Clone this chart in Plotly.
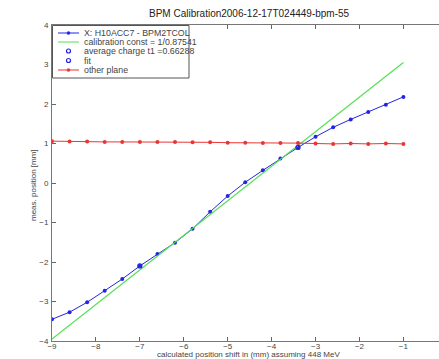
import plotly.graph_objects as go

# Scan positions (calculated shift, mm) and measured BPM readings
shift_mm = [-9.0, -8.6, -8.2, -7.8, -7.4, -7.0, -6.6, -6.2, -5.8, -5.4, -5.0,
            -4.6, -4.2, -3.8, -3.4, -3.0, -2.6, -2.2, -1.8, -1.4, -1.0]
meas_x = [-3.45, -3.27, -3.02, -2.73, -2.43, -2.10, -1.80, -1.51, -1.16, -0.73, -0.33,
          0.02, 0.32, 0.62, 0.90, 1.17, 1.41, 1.61, 1.80, 1.98, 2.18]
other_plane = [1.06, 1.05, 1.05, 1.04, 1.04, 1.04, 1.04, 1.04, 1.03, 1.03, 1.02,
               1.02, 1.01, 1.01, 1.01, 1.00, 0.99, 1.00, 0.99, 1.00, 0.99]

# Calibration line end points
calib_x = [-9.0, -1.0]
calib_y = [-3.95, 3.05]

# Marked points
avg_x = [-3.4]
avg_y = [0.90]
fit_x = [-7.0]
fit_y = [-2.10]

x_ticks = [-9, -8, -7, -6, -5, -4, -3, -2, -1]
y_ticks = [-4, -3, -2, -1, 0, 1, 2, 3, 4]

series_names = ["X: H10ACC7 - BPM2TCOL", "calibration const = 1/0.87541",
                "average charge t1 =0.66288", "fit", "other plane"]

BLUE = "#2424e6"
GREEN = "#55e055"
RED = "#ea3535"
FONT = "Liberation Sans, Arial, sans-serif"

W, H = 439, 359
L, R, T, B = 52, 0, 25, 18
PW, PH = W - L - R, H - T - B


def px(xp):
    return (xp - L) / PW


def py(yp):
    return (H - B - yp) / PH


fig = go.Figure()
fig.add_trace(go.Scatter(x=shift_mm, y=meas_x, mode="lines+markers", name=series_names[0],
                         line=dict(color=BLUE, width=1),
                         marker=dict(color=BLUE, size=4)))
fig.add_trace(go.Scatter(x=calib_x, y=calib_y, mode="lines", name=series_names[1],
                         line=dict(color=GREEN, width=1.2)))
fig.add_trace(go.Scatter(x=avg_x, y=avg_y, mode="markers", name=series_names[2],
                         marker=dict(color=BLUE, size=4, symbol="circle-open",
                                     line=dict(width=1.3, color=BLUE))))
fig.add_trace(go.Scatter(x=fit_x, y=fit_y, mode="markers", name=series_names[3],
                         marker=dict(color=BLUE, size=4, symbol="circle-open",
                                     line=dict(width=1.3, color=BLUE))))
fig.add_trace(go.Scatter(x=shift_mm, y=other_plane, mode="lines+markers", name=series_names[4],
                         line=dict(color=RED, width=1),
                         marker=dict(color=RED, size=4)))

# Compact boxed legend (line sample, marker, label) in the upper-left corner
legend_style = [(BLUE, True, "dot"), (GREEN, True, None), (BLUE, False, "ring"),
                (BLUE, False, "ring"), (RED, True, "dot")]
shapes = [dict(type="rect", xref="paper", yref="paper", x0=px(52.5), x1=px(189),
               y0=py(25.5), y1=py(78), line=dict(color="#555", width=1),
               fillcolor="white", layer="above")]
annotations = []
row_y = [33, 42, 51, 60.5, 70]
for (color, has_line, mk), name, yp in zip(legend_style, series_names, row_y):
    if has_line:
        shapes.append(dict(type="line", xref="paper", yref="paper", x0=px(58), x1=px(79),
                           y0=py(yp), y1=py(yp), line=dict(color=color, width=1),
                           layer="above"))
    if mk == "dot":
        shapes.append(dict(type="circle", xref="paper", yref="paper", x0=px(67), x1=px(70),
                           y0=py(yp + 1.5), y1=py(yp - 1.5), fillcolor=color,
                           line=dict(color=color, width=0.5), layer="above"))
    elif mk == "ring":
        shapes.append(dict(type="circle", xref="paper", yref="paper", x0=px(66.5),
                           x1=px(70.5), y0=py(yp + 2), y1=py(yp - 2),
                           line=dict(color=color, width=1.2), layer="above"))
    annotations.append(dict(text=name, xref="paper", yref="paper", x=px(81.5), y=py(yp),
                            xanchor="left", yanchor="middle", showarrow=False,
                            font=dict(family=FONT, size=8.8, color="#444")))

annotations += [
    dict(text="BPM Calibration2006-12-17T024449-bpm-55", xref="paper", yref="paper",
         x=px(249), y=py(13), showarrow=False, xanchor="center", yanchor="middle",
         font=dict(family=FONT, size=10, color="#222")),
    dict(text="calculated position shift in (mm) assuming 448 MeV", xref="paper",
         yref="paper", x=px(248), y=py(354.5), showarrow=False, xanchor="center",
         yanchor="middle", font=dict(family=FONT, size=8, color="#444")),
    dict(text="meas. position [mm]", xref="paper", yref="paper", x=px(33),
         y=py(185), showarrow=False, textangle=-90, xanchor="center", yanchor="middle",
         font=dict(family=FONT, size=8, color="#444")),
]

axis_common = dict(showgrid=False, zeroline=False, ticks="inside", ticklen=4,
                   tickcolor="#666", linecolor="#777", linewidth=1, showline=True,
                   tickfont=dict(family=FONT, size=8, color="#444"))

fig.update_xaxes(range=[-9, -0.19], tickvals=x_ticks, mirror="ticks",
                 ticklabelstandoff=-3, **axis_common)
fig.update_yaxes(range=[-4, 4], tickvals=y_ticks, mirror=False,
                 ticklabelstandoff=1, **axis_common)

fig.update_layout(
    width=W, height=H,
    margin=dict(l=L, r=R, t=T, b=B),
    paper_bgcolor="white", plot_bgcolor="white",
    font=dict(family=FONT, size=8, color="#333"),
    showlegend=False,
    shapes=shapes,
    annotations=annotations,
)

fig.write_html("out.html")
